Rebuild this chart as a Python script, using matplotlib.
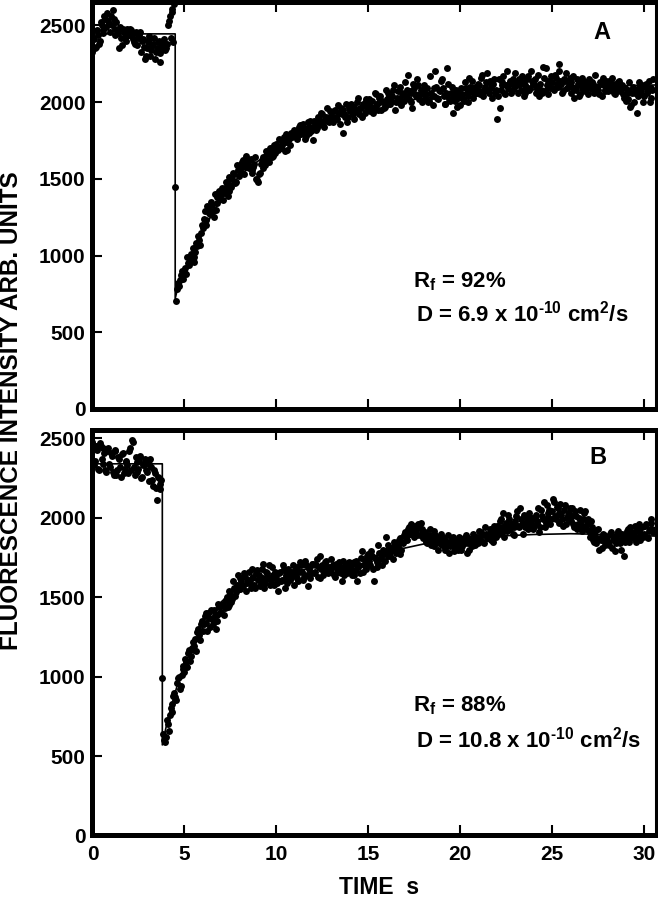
import numpy as np
import matplotlib
matplotlib.use('Agg')
import matplotlib.pyplot as plt

plt.rcParams['font.family'] = ['Liberation Sans', 'DejaVu Sans']
plt.rcParams['font.weight'] = 'bold'
plt.rcParams['mathtext.fontset'] = 'custom'
plt.rcParams['mathtext.rm'] = 'Liberation Sans:bold'
plt.rcParams['mathtext.it'] = 'Liberation Sans:bold'
plt.rcParams['mathtext.bf'] = 'Liberation Sans:bold'

# sampling interval of the recordings (s); the *_mid lists are the samples
# taken half an interval later
dt = 0.1

# panel A: fluorescence intensity, samples at t = 0, 0.1, 0.2 ...
int_a = [
    2330, 2410, 2360, 2440, 2400, 2500, 2470, 2540, 2580, 2510,
    2560, 2600, 2480, 2520, 2450, 2490, 2370, 2460, 2430, 2480,
    2440, 2470, 2410, 2380, 2450, 2420, 2460, 2400, 2360, 2300,
    2390, 2430, 2340, 2380, 2280, 2350, 2400, 2320, 2370, 2410,
    2350, 2500, 2560, 2610, 2390, 1450, 780, 800, 870, 850,
    900, 880, 950, 980, 1000, 960, 1020, 1060, 1100, 1150,
    1180, 1290, 1230, 1310, 1270, 1330, 1250, 1300, 1380, 1420,
    1400, 1360, 1440, 1470, 1420, 1460, 1500, 1530, 1480, 1560,
    1590, 1540, 1620, 1580, 1610, 1570, 1630, 1560, 1600, 1500,
    1480, 1540, 1620, 1640, 1590, 1660, 1610, 1680, 1650, 1700,
    1730, 1690, 1750, 1720, 1770, 1740, 1690, 1760, 1800, 1780,
    1790, 1760, 1820, 1850, 1800, 1830, 1780, 1870, 1840, 1810,
    1750, 1860, 1830, 1890, 1870, 1920, 1840, 1900, 1880, 1940,
    1910, 1870, 1950, 1890, 1930, 1960, 1800, 1920, 1990, 1900,
    1940, 1970, 1890, 1950, 2000, 1920, 1960, 1990, 1930, 2020,
    1980, 1940, 2010, 1960, 2050, 1990, 2030, 1950, 2000, 1970,
    2020, 2060, 1990, 2040, 2110, 2000, 2070, 2030, 1980, 2050,
    2130, 2080, 2020, 2060, 1960, 2090, 2040, 2110, 2050, 2000,
    2070, 2030, 2090, 2010, 2060, 1980, 2040, 2100, 2020, 2070,
    2150, 2040, 1990, 2220, 2020, 2060, 1930, 2010, 2070, 2030,
    1980, 2050, 2010, 2090, 2040, 2160, 2070, 2030, 2100, 2060,
    2110, 2050, 2180, 2080, 2130, 2070, 2140, 2090, 2120, 2060,
    1890, 2150, 2080, 2130, 2060, 2110, 2090, 2140, 2070, 2120,
    2190, 2110, 2150, 2080, 2130, 2060, 2100, 2170, 2090, 2140,
    2120, 2060, 2100, 2040, 2080, 2230, 2070, 2110, 2050, 2090,
    2130, 2080, 2160, 2100, 2250, 2120, 2070, 2140, 2090, 2110,
    2060, 2100, 2030, 2080, 2120, 2050, 2090, 2140, 2070, 2110,
    2150, 2090, 2120, 2060, 2100, 2080, 2130, 2040, 2110, 2070,
    2100, 2140, 2080, 2120, 2050, 2090, 2130, 2070, 2110, 2030,
    2010, 2080, 2130, 1980, 2100, 2060, 1930, 2090, 2050, 2110,
    2040, 2120, 2070, 2000, 2090, 2150,
]

# panel A, samples at t = 0.05, 0.15, 0.25 ...
int_a_mid = [
    2420, 2350, 2470, 2380, 2520, 2450, 2560, 2490, 2530, 2460,
    2500, 2540, 2440, 2470, 2350, 2420, 2480, 2450, 2400, 2460,
    2480, 2430, 2390, 2460, 2370, 2440, 2330, 2410, 2280, 2350,
    2410, 2300, 2370, 2420, 2330, 2390, 2260, 2360, 2400, 2340,
    2380, 2530, 2420, 2590, 2640, 705, 820, 840, 900, 880,
    920, 990, 940, 1010, 1050, 990, 1080, 1130, 1070, 1200,
    1240, 1200, 1320, 1280, 1350, 1290, 1400, 1340, 1410, 1370,
    1440, 1410, 1480, 1390, 1510, 1450, 1540, 1470, 1590, 1520,
    1560, 1610, 1530, 1650, 1590, 1620, 1540, 1580, 1640, 1490,
    1530, 1600, 1570, 1630, 1680, 1620, 1700, 1640, 1720, 1670,
    1710, 1760, 1700, 1740, 1680, 1790, 1750, 1720, 1770, 1820,
    1810, 1770, 1840, 1790, 1860, 1760, 1820, 1800, 1880, 1830,
    1880, 1820, 1900, 1860, 1930, 1850, 1890, 1960, 1870, 1910,
    1880, 1940, 1900, 1980, 1860, 1920, 1950, 1900, 1870, 1960,
    1990, 1920, 1970, 1940, 2030, 1960, 1900, 1980, 2010, 1950,
    2020, 1970, 1930, 2060, 1990, 1950, 2040, 2010, 1960, 2080,
    1990, 2040, 2010, 2080, 1950, 2030, 2000, 2100, 2060, 2010,
    2040, 2180, 2070, 2000, 2120, 2050, 2150, 2020, 2080, 2060,
    2110, 2050, 2000, 2170, 2040, 2090, 2200, 2030, 2080, 2140,
    2090, 1990, 2060, 2120, 2010, 2100, 2040, 2080, 1970, 2050,
    2090, 2020, 2130, 2060, 2000, 2100, 2140, 2050, 2080, 2120,
    2070, 2160, 2040, 2100, 2190, 2060, 2110, 2030, 2150, 2080,
    2040, 1960, 2110, 2170, 2050, 2200, 2120, 2060, 2150, 2090,
    2130, 2060, 2120, 2170, 2040, 2110, 2150, 2080, 2200, 2120,
    2150, 2090, 2180, 2120, 2060, 2160, 2220, 2140, 2100, 2170,
    2090, 2180, 2120, 2200, 2140, 2060, 2150, 2190, 2100, 2160,
    2130, 2170, 2090, 2150, 2040, 2120, 2160, 2080, 2130, 2050,
    2090, 2130, 2070, 2180, 2100, 2050, 2120, 2160, 2080, 2140,
    2070, 2110, 2160, 2060, 2120, 2080, 2140, 2100, 2050, 2090,
    2060, 2020, 1970, 2060, 2000, 2080, 2040, 2130, 2070, 2000,
    2100, 2060, 2140, 2030, 2080,
]

# panel B, samples at t = 0, 0.1, 0.2 ...
int_b = [
    2480, 2330, 2450, 2310, 2470, 2370, 2440, 2300, 2420, 2340,
    2410, 2290, 2430, 2270, 2380, 2320, 2400, 2280, 2360, 2330,
    2420, 2300, 2480, 2270, 2350, 2310, 2390, 2260, 2340, 2300,
    2360, 2230, 2320, 2200, 2280, 2110, 2250, 2180, 990, 600,
    620, 700, 760, 830, 880, 870, 960, 1000, 940, 1050,
    1030, 1090, 1150, 1100, 1180, 1170, 1240, 1280, 1260, 1330,
    1290, 1380, 1340, 1400, 1310, 1360, 1420, 1300, 1390, 1440,
    1410, 1460, 1430, 1500, 1450, 1520, 1490, 1560, 1530, 1640,
    1550, 1600, 1570, 1630, 1590, 1660, 1560, 1620, 1580, 1650,
    1610, 1570, 1680, 1620, 1590, 1650, 1700, 1600, 1640, 1580,
    1620, 1540, 1660, 1610, 1680, 1630, 1590, 1650, 1620, 1700,
    1640, 1690, 1600, 1720, 1660, 1630, 1700, 1570, 1680, 1650,
    1710, 1660, 1740, 1690, 1620, 1700, 1670, 1730, 1650, 1690,
    1660, 1700, 1630, 1680, 1720, 1650, 1690, 1640, 1710, 1670,
    1690, 1640, 1720, 1670, 1600, 1700, 1750, 1660, 1730, 1690,
    1770, 1700, 1760, 1600, 1740, 1690, 1780, 1750, 1800, 1730,
    1790, 1830, 1760, 1810, 1850, 1780, 1820, 1870, 1800, 1840,
    1910, 1860, 1940, 1900, 1950, 1880, 1920, 1960, 1890, 1930,
    1870, 1910, 1840, 1890, 1830, 1880, 1920, 1850, 1800, 1860,
    1830, 1870, 1810, 1850, 1780, 1840, 1880, 1820, 1860, 1800,
    1850, 1820, 1870, 1890, 1840, 1800, 1860, 1900, 1830, 1880,
    1920, 1860, 1890, 1840, 1900, 1870, 1930, 1880, 1850, 1910,
    1950, 1900, 1990, 1940, 1880, 1970, 2020, 1930, 1960, 1890,
    1980, 2040, 1940, 1990, 1900, 1970, 2010, 1930, 1960, 2000,
    1950, 2020, 1980, 1910, 2050, 1990, 1940, 2080, 2000, 1960,
    2040, 2100, 1990, 2060, 1970, 2020, 1950, 2080, 2000, 2030,
    1980, 2060, 1940, 2010, 1960, 2050, 1920, 1990, 2040, 1960,
    1920, 1980, 1860, 1900, 1840, 1930, 1870, 1810, 1890, 1850,
    1880, 1830, 1910, 1860, 1790, 1870, 1920, 1840, 1900, 1760,
    1890, 1930, 1850, 1910, 1870, 1950, 1880, 1920, 1860, 1940,
    1900, 1960, 1870, 1930, 1990, 1910,
]

# panel B, samples at t = 0.05, 0.15, 0.25 ...
int_b_mid = [
    2460, 2360, 2430, 2300, 2450, 2340, 2410, 2290, 2440, 2320,
    2390, 2270, 2420, 2300, 2370, 2260, 2410, 2310, 2350, 2280,
    2440, 2490, 2320, 2380, 2290, 2360, 2250, 2330, 2370, 2290,
    2340, 2370, 2240, 2300, 2190, 2260, 2210, 2240, 640, 590,
    730, 660, 800, 780, 900, 850, 990, 920, 1010, 1070,
    1110, 1060, 1170, 1130, 1220, 1190, 1160, 1300, 1230, 1350,
    1330, 1400, 1290, 1370, 1420, 1330, 1390, 1350, 1460, 1400,
    1450, 1390, 1480, 1440, 1540, 1470, 1600, 1510, 1580, 1550,
    1620, 1580, 1650, 1540, 1610, 1590, 1680, 1630, 1560, 1670,
    1640, 1600, 1710, 1560, 1660, 1620, 1580, 1690, 1630, 1660,
    1590, 1650, 1600, 1700, 1560, 1640, 1680, 1610, 1660, 1580,
    1680, 1620, 1660, 1700, 1610, 1730, 1640, 1690, 1620, 1710,
    1650, 1700, 1630, 1760, 1680, 1640, 1720, 1690, 1660, 1740,
    1690, 1640, 1710, 1660, 1690, 1600, 1730, 1680, 1650, 1720,
    1660, 1710, 1640, 1730, 1690, 1650, 1790, 1700, 1680, 1760,
    1730, 1790, 1680, 1750, 1720, 1830, 1740, 1700, 1770, 1880,
    1760, 1810, 1790, 1740, 1830, 1800, 1860, 1770, 1850, 1890,
    1880, 1930, 1900, 1960, 1920, 1950, 1890, 1940, 1970, 1910,
    1900, 1850, 1880, 1930, 1860, 1820, 1890, 1870, 1840, 1900,
    1860, 1800, 1850, 1890, 1820, 1870, 1790, 1850, 1830, 1880,
    1800, 1860, 1840, 1780, 1870, 1850, 1820, 1880, 1860, 1840,
    1880, 1910, 1850, 1940, 1870, 1900, 1860, 1920, 1950, 1880,
    1920, 1980, 1910, 2030, 1950, 1920, 1990, 1950, 1900, 1940,
    2010, 1950, 2060, 1960, 2020, 1940, 1990, 2030, 1970, 1930,
    2000, 1970, 2060, 1940, 2010, 2100, 1970, 2030, 2050, 1990,
    2120, 2010, 2070, 2030, 2090, 1990, 2050, 1960, 2020, 2060,
    2010, 1960, 2040, 1930, 2000, 1980, 1950, 2030, 1930, 1990,
    1880, 1940, 1850, 1920, 1870, 1800, 1860, 1900, 1830, 1870,
    1850, 1900, 1810, 1880, 1840, 1900, 1860, 1800, 1880, 1850,
    1920, 1870, 1940, 1880, 1910, 1850, 1930, 1960, 1900, 1880,
    1950, 1880, 1920, 1970, 1930,
]

# fitted recovery curves (bleach step + recovery)
fit_a_t = [0, 4.5, 4.5, 4.6, 4.8, 5.0, 5.3, 5.6, 6.0, 6.5, 7.0, 7.5, 8.0, 8.5, 9.0,
           10, 11, 12, 13, 14, 15, 16, 17, 18, 20, 22, 24, 26, 28, 30.65]
fit_a_v = [2445, 2445, 720, 770, 830, 885, 960, 1040, 1150, 1270, 1370, 1450, 1520, 1570, 1615,
           1700, 1775, 1840, 1890, 1935, 1965, 1990, 2010, 2025, 2045, 2065, 2080, 2095, 2105, 2112]

fit_b_t = [0, 3.8, 3.8, 4.0, 4.3, 4.6, 5.0, 5.5, 6.0, 6.5, 7.0, 7.5, 8.0, 8.5, 9.0,
           10, 11, 12, 13, 14, 15, 16, 17, 18, 19, 20, 22, 24, 26, 28, 30.65]
fit_b_v = [2340, 2340, 570, 680, 820, 940, 1070, 1200, 1310, 1400, 1470, 1525, 1565, 1595, 1615,
           1645, 1665, 1685, 1705, 1725, 1750, 1780, 1810, 1835, 1855, 1868, 1885, 1895, 1900, 1895, 1885]

xticks = [0, 5, 10, 15, 20, 25, 30]
yticks = [0, 500, 1000, 1500, 2000, 2500]

t_a = np.arange(len(int_a)) * dt
t_a_mid = np.arange(len(int_a_mid)) * dt + dt / 2
t_b = np.arange(len(int_b)) * dt
t_b_mid = np.arange(len(int_b_mid)) * dt + dt / 2

fig = plt.figure(figsize=(6.58, 9), dpi=100)
ax_a = fig.add_axes([0.1405, 0.5456, 0.8565, 0.4517])
ax_b = fig.add_axes([0.1405, 0.0717, 0.8565, 0.45])


def style(ax, ymax, show_x):
    ax.set_xlim(0, 30.65)
    ax.set_ylim(0, ymax)
    ax.set_xticks(xticks)
    ax.set_yticks(yticks)
    ax.tick_params(direction='in', length=7, width=1.5, top=True, right=False, labelsize=15)
    ax.tick_params(axis='x', labelbottom=show_x, pad=7)
    ax.tick_params(axis='y', pad=5)
    for s in ['left', 'bottom', 'top']:
        ax.spines[s].set_linewidth(3.6)
    ax.spines['right'].set_linewidth(2.2)


for t, v in [(t_a, int_a), (t_a_mid, int_a_mid)]:
    ax_a.plot(t, v, 'o', color='black', ms=5, mec='none')
ax_a.plot(fit_a_t, fit_a_v, color='black', lw=1.2)
style(ax_a, 2650, False)
ax_a.text(27.7, 2456, 'A', fontsize=17, ha='center', va='center')
ax_a.text(17.45, 830, r'R$_{f}$ = 92%', fontsize=16, ha='left', va='center')
ax_a.text(17.6, 622, r'D = 6.9 x 10$^{\text{-10}}$ cm$^{2}$/s', fontsize=16, ha='left', va='center')

for t, v in [(t_b, int_b), (t_b_mid, int_b_mid)]:
    ax_b.plot(t, v, 'o', color='black', ms=5, mec='none')
ax_b.plot(fit_b_t, fit_b_v, color='black', lw=1.2)
style(ax_b, 2550, True)
ax_b.text(27.5, 2382, 'B', fontsize=17, ha='center', va='center')
ax_b.text(17.45, 817, r'R$_{f}$ = 88%', fontsize=16, ha='left', va='center')
ax_b.text(17.6, 605, r'D = 10.8 x 10$^{\text{-10}}$ cm$^{2}$/s', fontsize=16, ha='left', va='center')

fig.text(0.018, 0.544, 'FLUORESCENCE INTENSITY ARB. UNITS', rotation=90,
         ha='center', va='center', fontsize=17.5)
fig.text(0.515, 0.007, 'TIME  s', ha='left', va='baseline', fontsize=16.5)

fig.savefig('out.png', dpi=100)
